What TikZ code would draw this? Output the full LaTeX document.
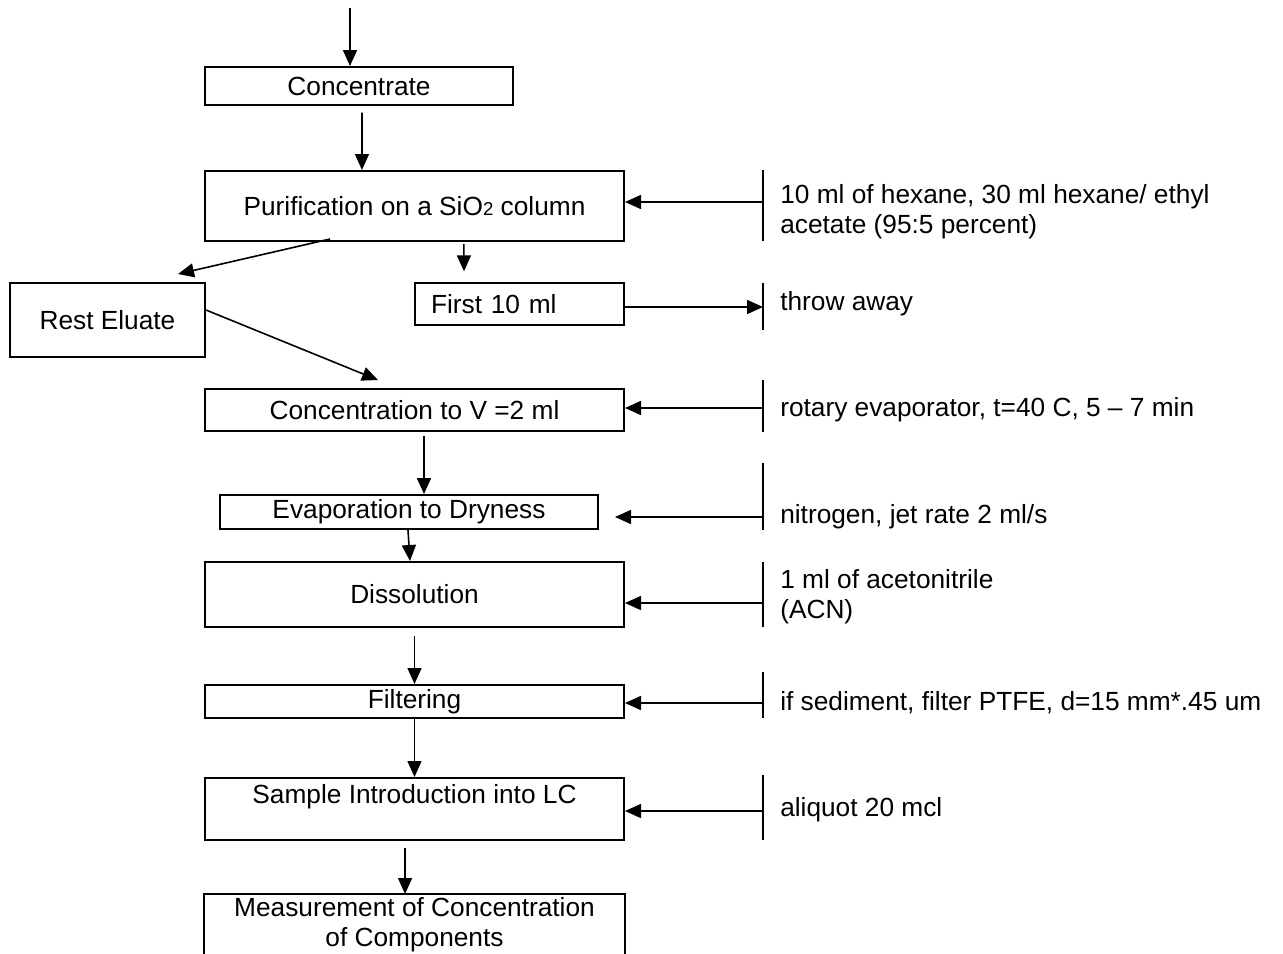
\documentclass[tikz,border=0pt]{standalone}
\usepackage{fontspec}
\setmainfont{Liberation Sans}
\usetikzlibrary{arrows.meta}

\begin{document}
\begin{tikzpicture}[x=0.75pt, y=-0.75pt,
  stage/.style={draw, line width=1.5pt, inner sep=0pt, align=center,
                font=\fontsize{19.7}{22.7}\selectfont},
  note/.style={anchor=west, inner sep=0pt, align=left,
               font=\fontsize{19.7}{22.7}\selectfont},
  flow/.style={->, line width=1.2pt},
  bar/.style={line width=1.2pt},
  >={Triangle[length=12pt,width=10.5pt]}]
\useasboundingbox (0,0) rectangle (1283,954);

\node[stage, minimum width=231pt, minimum height=28.5pt] (conc) at (359,86)
  {Concentrate};
\node[stage, minimum width=314.25pt, minimum height=52.5pt] (purif) at (414.5,206)
  {Purification on a SiO{\fontsize{14}{14}\selectfont 2} column};
\node[stage, minimum width=146.25pt, minimum height=55.5pt] (rest) at (107.5,320)
  {Rest Eluate};
\node[stage, text width=132.75pt, inner xsep=12pt, minimum height=31.5pt,
  align=left] (first) at (519.5,304) {First 10 ml};
\node[stage, minimum width=314.25pt, minimum height=31.5pt] (vol) at (414.5,410)
  {Concentration to V =2 ml};
\node[stage, minimum width=283.5pt, minimum height=25.5pt] (evap) at (409,512)
  {Evaporation to Dryness};
\node[stage, minimum width=314.25pt, minimum height=48.75pt] (diss) at (414.5,594.5)
  {Dissolution};
\node[stage, minimum width=314.25pt, minimum height=24.75pt] (filt) at (414.5,701.5)
  {Filtering};
\node[stage, minimum width=314.25pt, text height=18.75pt, text depth=27.75pt]
  (samp) at (414.5,809) {Sample Introduction into LC};
\node[stage, draw=none, minimum width=314.25pt, minimum height=45pt] (meas)
  at (414.5,925) {Measurement of Concentration\\of Components};
\draw[line width=1.5pt] (meas.south west) -- (meas.north west)
  -- (meas.north east) -- (meas.south east);

\coordinate (in) at (350,8);
\draw[flow] (in) -- ([xshift=-6.75pt]conc.north);
\draw[flow] ([xshift=2.25pt,yshift=-5pt]conc.south) -- ([xshift=-39.4pt]purif.north);
\draw[flow] ([xshift=37pt,yshift=-1.5pt]purif.south)
  -- ([xshift=-41.6pt,yshift=8pt]first.north);
\draw[flow] ([xshift=-63.4pt,yshift=2.25pt]purif.south)
  -- ([xshift=52.9pt,yshift=6pt]rest.north);
\draw[flow] ([yshift=7.5pt]rest.east) -- ([xshift=-27.4pt,yshift=6pt]vol.north);
\draw[flow] ([xshift=7.1pt,yshift=-3pt]vol.south) -- ([xshift=11.25pt]evap.north);
\draw[flow] ([xshift=-0.75pt]evap.south) -- ([xshift=-3.4pt]diss.north);
\draw[flow] ([yshift=-6pt]diss.south) -- (filt.north);
\draw[flow] (filt.south) -- (samp.north);
\draw[flow] ([xshift=-7.1pt,yshift=-5pt]samp.south) -- ([xshift=-7.1pt]meas.north);

\coordinate (s1) at (763,202);
\coordinate (s2) at (763,307);
\coordinate (s3) at (763,408);
\coordinate (s4) at (763,517);
\coordinate (s4end) at (615,517);
\coordinate (s5) at (763,603);
\coordinate (s6) at (763,703);
\coordinate (s7) at (763,811);

\draw[bar] (763,170) -- (763,241);
\draw[bar] (763,283) -- (763,330);
\draw[bar] (763,380) -- (763,432);
\draw[bar] (763,463) -- (763,530);
\draw[bar] (763,562) -- (763,627);
\draw[bar] (763,672) -- (763,718);
\draw[bar] (763,775) -- (763,840);

\draw[flow] (s1) -- (s1 -| purif.east);
\draw[flow] (first.east |- s2) -- (s2);
\draw[flow] (s3) -- (s3 -| vol.east);
\draw[flow] (s4) -- (s4end);
\draw[flow] (s5) -- (s5 -| diss.east);
\draw[flow] (s6) -- (s6 -| filt.east);
\draw[flow] (s7) -- (s7 -| samp.east);

\node[note] (hex) at (780,212)
  {10 ml of hexane, 30 ml hexane/ ethyl\\acetate (95:5 percent)};
\node[note] (waste) at (780,304) {throw away};
\node[note] (rot) at (780,410) {rotary evaporator, t=40 C, 5 – 7 min};
\node[note] (nitro) at (780,517) {nitrogen, jet rate 2 ml/s};
\node[note] (acn) at (780,597) {1 ml of acetonitrile\\(ACN)};
\node[note] (ptfe) at (780,703) {if sediment, filter PTFE, d=15 mm*.45 um};
\node[note] (aliq) at (780,810) {aliquot 20 mcl};
\end{tikzpicture}
\end{document}
